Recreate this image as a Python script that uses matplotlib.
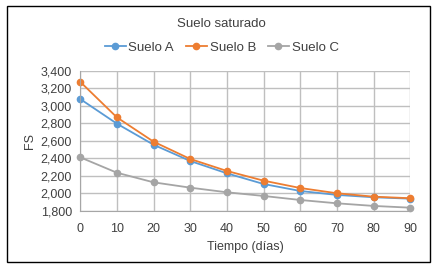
import matplotlib.pyplot as plt
from matplotlib.ticker import FuncFormatter
from matplotlib.patches import Rectangle

plt.rcParams['font.family'] = ['Liberation Sans', 'DejaVu Sans']

dias = [0, 10, 20, 30, 40, 50, 60, 70, 80, 90]
suelo_a = [3077, 2795, 2554, 2368, 2227, 2105, 2025, 1980, 1953, 1937]
suelo_b = [3274, 2867, 2589, 2391, 2254, 2143, 2059, 1999, 1960, 1942]
suelo_c = [2410, 2234, 2124, 2063, 2010, 1968, 1922, 1884, 1854, 1834]

fig = plt.figure(figsize=(4.43, 2.68), dpi=100)
ax = fig.add_axes([0.181, 0.214, 0.745, 0.522])

ax.plot(dias, suelo_a, '-o', color='#5B9BD5', lw=1.3, ms=4.5, label='Suelo A', clip_on=False)
ax.plot(dias, suelo_b, '-o', color='#ED7D31', lw=1.3, ms=4.5, label='Suelo B', clip_on=False)
ax.plot(dias, suelo_c, '-o', color='#A5A5A5', lw=1.3, ms=4.5, label='Suelo C', clip_on=False)

ax.set_xlim(0, 90)
ax.set_ylim(1800, 3400)
ax.set_xticks(dias)
ax.set_yticks(range(1800, 3401, 200))
ax.yaxis.set_major_formatter(FuncFormatter(lambda v, p: f'{int(v):,}'))
ax.grid(True, color='#bfbfbf', lw=1)
ax.set_axisbelow(True)
for s in ['top', 'right']:
    ax.spines[s].set_visible(False)
for s in ['left', 'bottom']:
    ax.spines[s].set_color('#a6a6a6')
ax.tick_params(length=0, labelsize=9, colors='#404040')
ax.tick_params(axis='x', pad=9)
ax.tick_params(axis='y', pad=6)

ax.set_xlabel('Tiempo (días)', fontsize=9, color='#404040', labelpad=4)
ax.set_ylabel('FS', fontsize=9, color='#404040', labelpad=3)

fig.text(0.5, 0.91, 'Suelo saturado', ha='center', va='center', fontsize=9.5, color='#404040')
fig.legend(loc='center', bbox_to_anchor=(0.5, 0.822), ncol=3, frameon=False,
           fontsize=9.5, handlelength=1.6, columnspacing=0.9, handletextpad=0.2,
           labelcolor='#404040')

fig.patches.append(Rectangle((0.016, 0.022), 0.955, 0.956, transform=fig.transFigure,
                             fill=False, edgecolor='black', lw=1))

fig.savefig('out.png', dpi=100)
